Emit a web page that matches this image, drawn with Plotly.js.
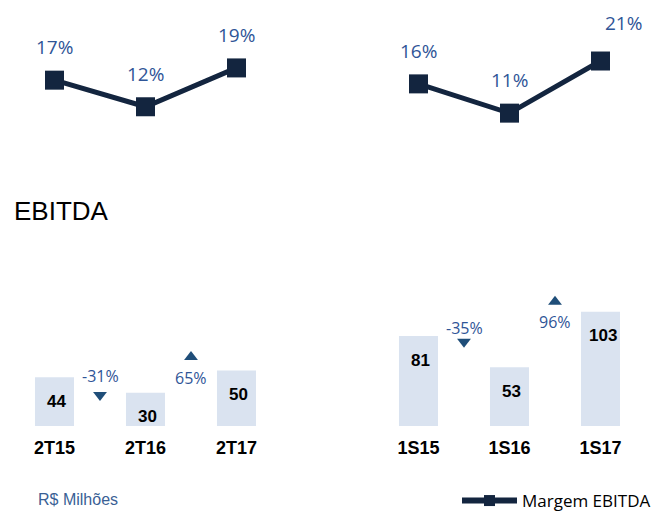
<!DOCTYPE html>
<html><head><meta charset="utf-8">
<script src="https://cdn.plot.ly/plotly-3.0.1.min.js"></script>
<style>html,body{margin:0;padding:0;background:#fff}</style>
</head><body><div id="chart" style="width:663px;height:513px"></div>
<script>
// ---- data ----
const quarterCats = ['2T15', '2T16', '2T17'];
const quarterEbitda = [44, 30, 50];
const quarterMargin = [17.0, 12.0, 19.3];
const quarterChange = ['-31%', '65%'];

const semesterCats = ['1S15', '1S16', '1S17'];
const semesterEbitda = [81, 53, 103];
const semesterMargin = [16.3, 10.8, 20.6];
const semesterChange = ['-35%', '96%'];

const legendName = 'Margem EBITDA';
const chartTitle = 'EBITDA';
const unitNote = 'R$ Milhões';

// ---- styles ----
const NAVY = '#13253F';
const BAR = '#DAE3F0';
const BLUE = '#2F5597';
const TRI = '#1F4E79';
const W = 663, H = 513;
const px = v => v / W, py = v => 1 - v / H;

// placement of the change labels / arrows (value-axis units)
const quarterChangePos = {text: [45, 43.5], arrow: [27.9, 62.2]};
const semesterChangePos = {text: [88.6, 94], arrow: [75.9, 112]};

const idx = a => a.map((_, i) => i);

const traces = [];
const annotations = [];

function panel(cats, ebitda, margin, change, pos, xa, yBar, yLine) {
  const xs = idx(cats);
  traces.push({type: 'bar', x: xs, y: ebitda, xaxis: xa, yaxis: yBar,
    marker: {color: BAR}, showlegend: false, hoverinfo: 'skip'});
  traces.push({type: 'scatter', mode: 'lines+markers', x: xs, y: margin,
    xaxis: xa, yaxis: yLine, cliponaxis: false,
    line: {color: NAVY, width: 5},
    marker: {symbol: 'square', size: 19, color: NAVY},
    showlegend: false, hoverinfo: 'skip'});
  const mids = change.map((_, i) => i + 0.5);
  traces.push({type: 'scatter', mode: 'markers', x: mids, y: pos.arrow,
    xaxis: xa, yaxis: yBar, cliponaxis: false,
    marker: {symbol: change.map(c => c.trim().startsWith('-') ? 'triangle-down' : 'triangle-up'),
             size: 12, color: TRI},
    showlegend: false, hoverinfo: 'skip'});
  const xr = xa === 'x' ? 'x' : 'x2';
  margin.forEach((v, i) => {
    const last = (xa === 'x2' && i === margin.length - 1);
    annotations.push({x: i, y: v, xref: xr, yref: yLine, showarrow: false,
      xanchor: 'center', yanchor: 'middle',
      text: Math.round(v) + '%', yshift: last ? 38 : 33, xshift: last ? 23 : 0,
      font: {family: 'Open Sans', size: 19, color: BLUE}});
  });
  ebitda.forEach((v, i) => {
    annotations.push({x: i, y: v, xref: xr, yref: yBar, showarrow: false,
      xanchor: 'center', yanchor: 'middle',
      text: '<b>' + v + '</b>', yshift: -24, xshift: 2,
      font: {family: 'Liberation Sans, Arial', size: 17, color: '#000'}});
  });
  change.forEach((c, i) => {
    annotations.push({x: i + 0.5, y: pos.text[i], xref: xr, yref: yBar, showarrow: false,
      xanchor: 'center', yanchor: 'middle',
      text: c, font: {family: 'Open Sans', size: 16, color: BLUE}});
  });
}

panel(quarterCats, quarterEbitda, quarterMargin, quarterChange, quarterChangePos, 'x', 'y', 'y2');
panel(semesterCats, semesterEbitda, semesterMargin, semesterChange, semesterChangePos, 'x2', 'y3', 'y4');

// legend-only entry
traces.push({type: 'scatter', mode: 'lines+markers', x: [null], y: [null],
  xaxis: 'x', yaxis: 'y2', name: legendName, showlegend: true,
  line: {color: NAVY, width: 6}, marker: {symbol: 'square', size: 11, color: NAVY}});

annotations.push({xref: 'paper', yref: 'paper', x: px(12), y: py(211), xanchor: 'left', yanchor: 'middle',
  showarrow: false, text: chartTitle, font: {family: 'Liberation Sans, Arial', size: 26, color: '#000'}});
annotations.push({xref: 'paper', yref: 'paper', x: px(36), y: py(499), xanchor: 'left', yanchor: 'middle',
  showarrow: false, text: unitNote, font: {family: 'Liberation Sans, Arial', size: 16, color: '#3A5F95'}});

const xBase = {type: 'linear', range: [-0.5, 2.5], tickmode: 'array', tickvals: [0, 1, 2],
  showgrid: false, zeroline: false, showline: false, ticks: 'outside', ticklen: 5,
  tickcolor: 'rgba(0,0,0,0)', fixedrange: true, automargin: false,
  tickfont: {family: 'Liberation Sans, Arial', size: 18, color: '#000', weight: 'bold'}};
const yHidden = {showgrid: false, zeroline: false, showline: false, showticklabels: false, ticks: '', fixedrange: true};

const layout = {
  width: W, height: H, autosize: false,
  margin: {l: 0, r: 0, t: 0, b: 0, pad: 0, autoexpand: false},
  paper_bgcolor: '#fff', plot_bgcolor: 'rgba(0,0,0,0)',
  bargap: 0.571,
  xaxis: Object.assign({}, xBase, {domain: [px(9), px(282)], anchor: 'y', ticktext: quarterCats}),
  xaxis2: Object.assign({}, xBase, {domain: [px(373), px(646)], anchor: 'y3', ticktext: semesterCats}),
  yaxis: Object.assign({}, yHidden, {domain: [py(426), py(300)], range: [0, 113.5], anchor: 'x'}),
  yaxis2: Object.assign({}, yHidden, {domain: [py(170.6), py(11)], range: [0, 30], anchor: 'x'}),
  yaxis3: Object.assign({}, yHidden, {domain: [py(426), py(300)], range: [0, 113.5], anchor: 'x2'}),
  yaxis4: Object.assign({}, yHidden, {domain: [py(170.6), py(11)], range: [0, 30], anchor: 'x2'}),
  showlegend: true,
  legend: {x: px(457), xanchor: 'left', y: py(501), yanchor: 'middle', bgcolor: 'rgba(0,0,0,0)',
    itemwidth: 55, font: {family: 'Open Sans', size: 17, color: '#000'}},
  annotations: annotations
};

Plotly.newPlot('chart', traces, layout, {displayModeBar: false, staticPlot: true});
</script></body></html>
